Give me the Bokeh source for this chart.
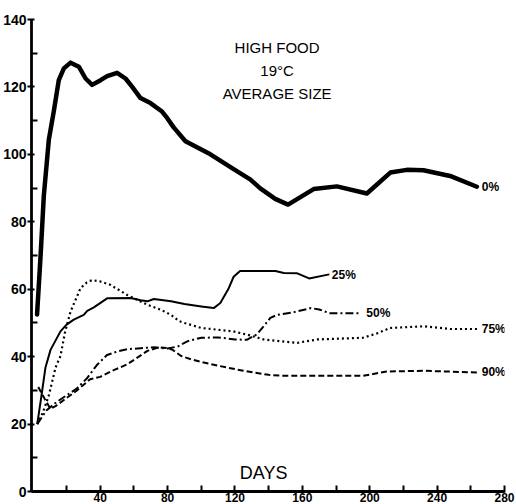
from bokeh.plotting import figure
from bokeh.models import Range1d, FixedTicker
from bokeh.core.properties import value
from bokeh.embed import file_html
from bokeh.resources import INLINE

# Average size over time at 19°C, high food, by percent treatment
days_0 = [2.5, 4.6, 6.5, 9.5, 12.5, 15.4, 18.4, 22.4, 27.3, 31.3, 35.2, 40.2, 44.1, 50.0,
          55.0, 59.0, 63.9, 69.8, 76.7, 79.7, 83.6, 90.6, 105.4, 119.2, 129.0, 135.0,
          143.9, 151.5, 166.7, 180.5, 198.3, 212.2, 222.0, 231.9, 247.7, 263.6]
size_0 = [52.5, 70.0, 87.6, 104.4, 113.0, 122.0, 125.5, 127.2, 126.0, 122.5, 120.6, 122.0,
          123.2, 124.2, 122.5, 120.0, 116.7, 115.2, 112.7, 110.8, 108.0, 103.9, 100.0, 95.6,
          92.6, 89.9, 86.8, 85.1, 89.7, 90.5, 88.4, 94.6, 95.4, 95.3, 93.6, 90.4]

days_25 = [2.6, 5.0, 7.5, 10.5, 16.4, 20.0, 24.3, 30.2, 32.3, 36.2, 44.1, 58.0, 64.0, 68.0,
           71.8, 82.0, 90.0, 100.0, 107.4, 111.3, 116.3, 119.2, 123.0, 144.0, 149.0, 157.0,
           164.0, 176.0]
size_25 = [20.0, 28.0, 36.8, 42.0, 47.5, 49.5, 51.0, 52.4, 53.6, 54.6, 57.3, 57.4, 56.7, 56.4,
           57.1, 56.4, 55.6, 54.9, 54.4, 55.9, 60.3, 63.7, 65.4, 65.4, 64.8, 64.7, 63.2, 64.4]

days_50 = [2.6, 8.0, 14.0, 20.0, 26.0, 32.0, 38.0, 44.0, 50.0, 56.0, 64.0, 72.0, 80.0, 86.0,
           92.0, 100.0, 110.0, 120.0, 127.0, 133.0, 137.0, 141.0, 145.0, 155.0, 165.0, 170.0,
           176.0, 195.0]
size_50 = [20.0, 24.0, 26.5, 28.5, 30.5, 33.5, 37.5, 40.5, 41.5, 42.2, 42.5, 42.8, 42.4, 43.0,
           44.6, 45.6, 45.7, 45.1, 45.0, 46.6, 49.0, 51.5, 52.4, 53.2, 54.4, 54.0, 52.9, 52.9]

days_75 = [2.6, 6.0, 9.5, 13.5, 16.4, 19.0, 22.4, 28.3, 32.0, 35.2, 40.0, 46.0, 56.0, 68.0,
           76.0, 82.0, 87.0, 90.0, 100.0, 119.0, 129.0, 137.0, 150.0, 157.0, 169.0, 196.0,
           205.0, 212.0, 232.0, 248.0, 264.0]
size_75 = [20.0, 23.5, 28.5, 36.8, 40.2, 47.0, 53.4, 60.3, 62.0, 62.7, 62.3, 61.3, 58.3, 55.4,
           53.9, 52.4, 50.5, 50.0, 48.5, 47.5, 46.3, 45.1, 44.4, 44.1, 45.1, 45.6, 47.0, 48.5,
           49.0, 48.2, 48.2]

days_90 = [3.2, 7.0, 10.5, 14.0, 18.0, 26.0, 34.0, 40.0, 48.0, 56.0, 62.0, 68.0, 75.0, 80.0,
           83.0, 88.0, 94.0, 100.0, 110.0, 125.0, 140.0, 150.0, 196.0, 210.0, 232.0, 264.0]
size_90 = [31.0, 27.5, 24.5, 25.5, 27.0, 29.9, 33.3, 34.0, 36.0, 37.7, 39.7, 41.7, 42.8, 42.5,
           42.0, 40.2, 39.2, 38.4, 37.3, 35.8, 34.6, 34.3, 34.3, 35.6, 35.8, 35.3]

series_labels = ["0%", "25%", "50%", "75%", "90%"]
label_x = [266.5, 177.5, 198.0, 266.5, 266.5]
label_y = [90.3, 64.1, 52.9, 48.2, 35.3]

title_lines = ["HIGH FOOD", "19°C", "AVERAGE SIZE"]
title_y = [131.6, 125.0, 118.1]
title_x = 145.0

x_major = [40, 80, 120, 160, 200, 240, 280]
x_minor = [20, 60, 100, 140, 180, 220, 260]
y_major = [0, 20, 40, 60, 80, 100, 120, 140]
y_minor = [10, 30, 50, 70, 90, 110, 130]

FONT = "Liberation Sans"

p = figure(width=516, height=504, output_backend="svg", toolbar_location=None,
           x_range=Range1d(-0.8, 280), y_range=Range1d(0, 140),
           min_border_left=31, min_border_right=12, min_border_top=19, min_border_bottom=0)
p.grid.visible = False
p.outline_line_color = None
p.background_fill_color = "white"
p.border_fill_color = "white"

# axes
p.xaxis.ticker = FixedTicker(ticks=x_major, minor_ticks=x_minor)
p.yaxis.ticker = FixedTicker(ticks=y_major, minor_ticks=y_minor)
for ax in (p.xaxis, p.yaxis):
    ax.axis_line_width = 2.8
    ax.axis_line_color = "black"
    ax.major_tick_line_color = "black"
    ax.minor_tick_line_color = "black"
    ax.major_tick_line_width = 2
    ax.minor_tick_line_width = 2
    ax.major_label_text_font = FONT
    ax.major_label_text_font_style = "bold"
    ax.major_label_text_color = "black"
p.yaxis.major_tick_in = 3
p.yaxis.major_tick_out = 4
p.yaxis.minor_tick_in = 6
p.yaxis.minor_tick_out = 0
p.yaxis.major_label_standoff = 1
p.yaxis.major_label_text_font_size = "14px"
p.xaxis.major_tick_in = 6
p.xaxis.major_tick_out = 1
p.xaxis.minor_tick_in = 6
p.xaxis.minor_tick_out = 0
p.xaxis.major_label_standoff = 0
p.xaxis.major_label_text_font_size = "12px"

# curves
p.line(days_0, size_0, line_width=4.5, line_color="black", line_join="round", line_cap="round")
p.line(days_25, size_25, line_width=2, line_color="black", line_join="round")
p.line(days_50, size_50, line_width=2, line_color="black", line_dash="8 3 2 3")
p.line(days_75, size_75, line_width=2.2, line_color="black", line_dash="2 3")
p.line(days_90, size_90, line_width=2, line_color="black", line_dash="6 3")

# series labels
p.text(x=label_x, y=label_y, text=series_labels, text_font=value(FONT),
       text_font_style="bold", text_font_size="12px", text_baseline="middle",
       text_align="left", text_color="black")

# heading
p.text(x=[title_x] * 3, y=title_y, text=title_lines, text_font=value(FONT),
       text_font_size="15px", text_baseline="middle", text_align="center",
       text_color="black")

# x-axis caption
p.text(x=[137.0], y=[5.6], text=["DAYS"], text_font=value(FONT),
       text_font_size="18px", text_baseline="middle", text_align="center",
       text_color="black")

open("out.html", "w").write(file_html(p, INLINE))
